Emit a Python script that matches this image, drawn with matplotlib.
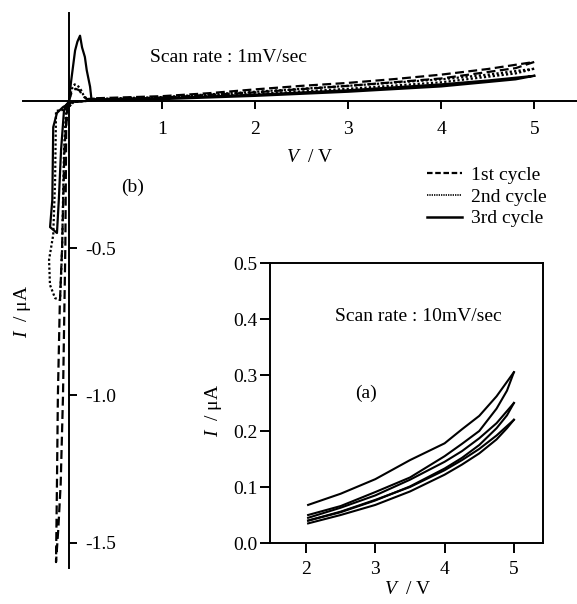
import numpy as np
import matplotlib.pyplot as plt
from matplotlib.lines import Line2D

plt.rcParams['font.family'] = 'Liberation Serif'
plt.rcParams['mathtext.fontset'] = 'custom'
plt.rcParams['mathtext.rm'] = 'Liberation Serif'
plt.rcParams['mathtext.it'] = 'Liberation Serif:italic'
plt.rcParams['font.size'] = 14
plt.rcParams['axes.unicode_minus'] = False

# --- main panel (b): scan rate 1 mV/s, three cycles ---
v_c1 = [5.0, 4.8, 4.0, 3.0, 2.0, 1.0, 0.3, 0.05, 0.0, -0.03, -0.04, -0.065, -0.09, -0.115, -0.14,
        -0.13, -0.12, -0.10, -0.075, -0.05, -0.02, 0.0, 0.03, 0.07, 0.11, 0.15, 0.19, 0.3,
        1.0, 1.5, 2.0, 2.5, 3.0, 3.5, 4.0, 4.5, 5.0]
i_c1 = [0.131, 0.11, 0.075, 0.05, 0.028, 0.01, 0.003, -0.005, -0.02, -0.07, -0.5, -1.0, -1.3, -1.45, -1.565,
        -1.3, -1.0, -0.7, -0.5, -0.17, -0.02, 0.0, 0.03, 0.04, 0.035, 0.015, 0.005, 0.008,
        0.015, 0.025, 0.038, 0.05, 0.06, 0.073, 0.088, 0.107, 0.131]

v_c2 = [5.0, 4.8, 4.0, 3.0, 2.0, 1.0, 0.3, 0.05, 0.0, -0.03, -0.14, -0.15, -0.17, -0.215, -0.205, -0.15, -0.097,
        -0.075, -0.054, -0.03, 0.0, 0.03, 0.06, 0.10, 0.13, 0.16, 0.2, 0.3, 1.0, 2.0, 3.0, 4.0, 4.5, 5.0]
i_c2 = [0.108, 0.092, 0.062, 0.04, 0.022, 0.008, 0.002, -0.005, -0.02, -0.03, -0.035, -0.27, -0.455, -0.54, -0.625, -0.67, -0.676,
        -0.507, -0.168, -0.015, 0.0, 0.04, 0.055, 0.048, 0.035, 0.015, 0.005, 0.006, 0.012, 0.03, 0.05, 0.072, 0.088, 0.108]

v_c3 = [5.0, 4.8, 4.0, 3.0, 2.0, 1.0, 0.3, 0.05, 0.0, -0.065, -0.13, -0.17, -0.18, -0.204, -0.13, -0.11, -0.086,
        -0.054, 0.0, 0.02, 0.047, 0.065, 0.09, 0.118, 0.14, 0.17, 0.19, 0.226, 0.24, 0.3,
        1.0, 2.0, 3.0, 4.0, 4.5, 5.0]
i_c3 = [0.084, 0.072, 0.048, 0.03, 0.016, 0.005, 0.001, -0.004, -0.01, -0.022, -0.042, -0.09, -0.337, -0.429, -0.449, -0.337, -0.168,
        -0.032, 0.0, 0.06, 0.126, 0.17, 0.2, 0.22, 0.18, 0.148, 0.103, 0.047, 0.007, 0.004,
        0.008, 0.02, 0.035, 0.055, 0.068, 0.084]

# --- inset (a): scan rate 10 mV/s ---
v_up = [2.03, 2.5, 3.0, 3.5, 4.0, 4.25, 4.5, 4.75, 5.0]
v_down = [5.0, 4.9, 4.75, 4.5, 4.25, 4.0, 3.5, 3.0, 2.5, 2.03]
a1_up = [0.068, 0.088, 0.114, 0.148, 0.178, 0.203, 0.227, 0.262, 0.305]
a1_down = [0.305, 0.272, 0.240, 0.200, 0.177, 0.155, 0.117, 0.091, 0.066, 0.050]
a2_up = [0.045, 0.063, 0.085, 0.113, 0.145, 0.164, 0.187, 0.214, 0.250]
a2_down = [0.250, 0.228, 0.205, 0.175, 0.152, 0.133, 0.101, 0.076, 0.055, 0.040]
a3_up = [0.040, 0.056, 0.077, 0.100, 0.130, 0.148, 0.168, 0.192, 0.220]
a3_down = [0.220, 0.205, 0.185, 0.160, 0.140, 0.122, 0.092, 0.068, 0.050, 0.035]

W, H = 577, 604
def fx(px): return px / W
def fy(py): return 1 - py / H

fig = plt.figure(figsize=(W / 100, H / 100), dpi=100)

# main axes with spines crossing at the origin
ax = fig.add_axes([fx(23), fy(568), 1 - fx(23), (568 - 13) / H])
ax.set_facecolor('none')
ax.plot(v_c1, i_c1, color='black', lw=1.6, linestyle=(0, (4, 2)))
ax.plot(v_c2, i_c2, color='black', lw=1.6, linestyle=(0, (1, 1)))
ax.plot(v_c3, i_c3, color='black', lw=1.6, linestyle='-')
ax.set_xlim(-0.495, 5.46)
ax.set_ylim(-1.585, 0.297)
for s in ['left', 'top']:
    ax.spines[s].set_visible(False)
ax.spines['right'].set_position(('data', 0))
ax.spines['bottom'].set_position(('data', 0))
for s in ['right', 'bottom']:
    ax.spines[s].set_linewidth(1.4)
ax.yaxis.tick_right()
ax.xaxis.tick_bottom()
ax.tick_params(direction='out', length=6, width=1.4)
ax.tick_params(axis='x', pad=9)
ax.tick_params(axis='y', pad=6)
ax.set_xticks([1, 2, 3, 4, 5])
ax.set_yticks([-0.5, -1.0, -1.5])
ax.set_yticklabels(['-0.5', '-1.0', '-1.5'])

fig.text(fx(310), fy(158), r'$V$  / V', ha='center', va='center')
fig.text(fx(23), fy(311), r'$I$  / μA', ha='center', va='center', rotation=90)
fig.text(fx(150), fy(57), 'Scan rate : 1mV/sec', ha='left', va='center')
fig.text(fx(133), fy(187), '(b)', ha='center', va='center')

handles = [Line2D([], [], color='black', lw=1.6, linestyle=(0, (2.5, 1.2))),
           Line2D([], [], color='black', lw=1.2, linestyle=(0, (0.8, 0.6))),
           Line2D([], [], color='black', lw=1.8, linestyle='-')]
fig.legend(handles, ['1st cycle', '2nd cycle', '3rd cycle'], loc='upper left',
           bbox_to_anchor=(fx(427), fy(166)), frameon=False, borderpad=0, borderaxespad=0,
           handlelength=1.8, handletextpad=0.45, labelspacing=0.22)

# inset
axi = fig.add_axes([fx(270), fy(543), (543 - 270) / W, (543 - 263) / H])
axi.set_facecolor('white')
for up, down in [(a1_up, a1_down), (a2_up, a2_down), (a3_up, a3_down)]:
    axi.plot(v_up, up, color='black', lw=1.5)
    axi.plot(v_down, down, color='black', lw=1.5)
axi.set_xlim(1.48, 5.42)
axi.set_ylim(0.0, 0.5)
axi.set_xticks([2, 3, 4, 5])
axi.set_yticks([0.0, 0.1, 0.2, 0.3, 0.4, 0.5])
axi.set_yticklabels(['0.0', '0.1', '0.2', '0.3', '0.4', '0.5'])
axi.tick_params(direction='out', length=7, width=1.4)
axi.tick_params(axis='x', pad=6)
axi.tick_params(axis='y', pad=2)
for s in axi.spines.values():
    s.set_linewidth(1.4)
fig.text(fx(408), fy(590), r'$V$  / V', ha='center', va='center')
fig.text(fx(213), fy(410), r'$I$  / μA', ha='center', va='center', rotation=90)
axi.text(3.62, 0.404, 'Scan rate : 10mV/sec', ha='center', va='center')
axi.text(2.87, 0.268, '(a)', ha='center', va='center')

fig.savefig('out.png', dpi=100)
